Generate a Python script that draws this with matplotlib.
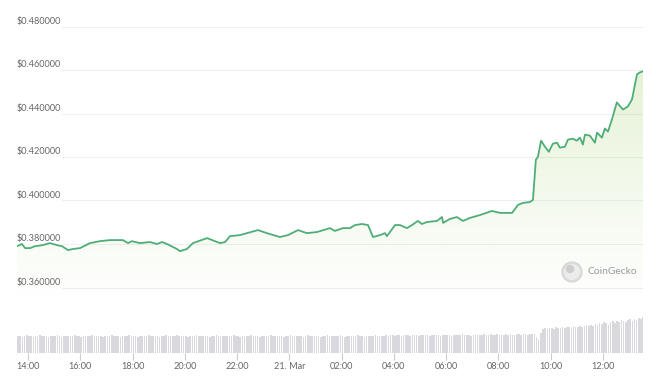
import matplotlib
matplotlib.use("Agg")
import matplotlib.pyplot as plt
import numpy as np
from matplotlib.patches import Circle

plt.rcParams['font.family'] = ['Lato', 'DejaVu Sans']

# price, hours after 14:00 (20 Mar)
hours = [-0.42, -0.23, -0.11, 0.08, 0.27, 0.57, 0.84, 1.11, 1.30, 1.53, 1.72, 1.99,
         2.37, 2.75, 3.14, 3.63, 3.83, 3.98, 4.28, 4.67, 4.93, 5.13, 5.32, 5.70,
         5.81, 6.08, 6.31, 6.85, 7.35, 7.54, 7.73, 8.11, 8.38, 8.80, 9.14, 9.64,
         9.95, 10.33, 10.67, 11.06, 11.55, 11.74, 12.05, 12.32, 12.51, 12.78, 13.01, 13.20,
         13.47, 13.66, 13.73, 13.85, 14.04, 14.23, 14.50, 14.69, 14.92, 15.07, 15.26, 15.65,
         15.84, 15.88, 16.14, 16.41, 16.64, 16.91, 17.29, 17.75, 18.06, 18.32, 18.52, 18.75,
         18.94, 19.20, 19.32, 19.43, 19.51, 19.63, 19.78, 19.93, 20.08, 20.24, 20.35, 20.54,
         20.66, 20.85, 21.00, 21.12, 21.23, 21.31, 21.50, 21.69, 21.77, 21.96, 22.07, 22.19,
         22.34, 22.53, 22.76, 22.95, 23.11, 23.30, 23.41, 23.53]
prices = [0.3790, 0.3800, 0.3781, 0.3781, 0.3790, 0.3795, 0.3804, 0.3795, 0.3790, 0.3772, 0.3777, 0.3781,
          0.3804, 0.3813, 0.3818, 0.3818, 0.3804, 0.3813, 0.3804, 0.3809, 0.3800, 0.3809, 0.3800, 0.3777,
          0.3767, 0.3777, 0.3804, 0.3827, 0.3804, 0.3809, 0.3836, 0.3841, 0.3850, 0.3864, 0.3850, 0.3832,
          0.3841, 0.3864, 0.3850, 0.3855, 0.3873, 0.3860, 0.3873, 0.3873, 0.3887, 0.3892, 0.3887, 0.3832,
          0.3841, 0.3850, 0.3836, 0.3855, 0.3887, 0.3887, 0.3873, 0.3887, 0.3906, 0.3892, 0.3901, 0.3906,
          0.3924, 0.3897, 0.3915, 0.3924, 0.3906, 0.3920, 0.3933, 0.3952, 0.3943, 0.3943, 0.3943, 0.3980,
          0.3989, 0.3993, 0.4003, 0.4187, 0.4201, 0.4275, 0.4247, 0.4224, 0.4261, 0.4266, 0.4243, 0.4247,
          0.4280, 0.4284, 0.4275, 0.4289, 0.4257, 0.4303, 0.4298, 0.4266, 0.4312, 0.4289, 0.4331, 0.4317,
          0.4372, 0.4451, 0.4418, 0.4432, 0.4465, 0.4580, 0.4589, 0.4594]

# volume, 5-minute bars starting 13:35
volumes = [
    17, 17, 16, 17, 18, 17, 17, 16, 17, 17, 18, 17, 17, 17, 16, 17, 17, 17, 18, 17, 16, 17, 17, 17,
    17, 17, 18, 17, 17, 16, 17, 17, 17, 17, 18, 17, 17, 17, 17, 16, 17, 17, 17, 18, 17, 17, 17, 16,
    17, 17, 17, 18, 17, 17, 17, 16, 17, 17, 17, 17, 18, 17, 17, 17, 17, 16, 17, 17, 18, 17, 17, 17,
    17, 18, 17, 17, 17, 17, 16, 17, 17, 17, 18, 17, 17, 17, 17, 17, 16, 17, 17, 18, 17, 17, 17, 17,
    17, 17, 17, 18, 17, 17, 16, 17, 17, 17, 17, 18, 17, 17, 17, 16, 17, 17, 17, 17, 18, 17, 17, 17,
    17, 17, 16, 17, 17, 18, 17, 17, 17, 17, 17, 16, 17, 18, 17, 17, 17, 17, 17, 16, 17, 17, 18, 17,
    17, 17, 17, 17, 18, 17, 16, 17, 17, 17, 17, 17, 18, 17, 17, 16, 17, 17, 17, 17, 18, 17, 17, 17,
    17, 18, 17, 18, 18, 17, 18, 18, 17, 18, 18, 18, 17, 18, 18, 18, 17, 18, 18, 18, 18, 17, 18, 18,
    18, 18, 17, 18, 18, 18, 18, 17, 18, 18, 18, 18, 19, 18, 18, 18, 17, 18, 18, 18, 18, 18, 19, 18,
    18, 19, 18, 18, 19, 18, 18, 18, 19, 18, 19, 18, 18, 19, 19, 18, 19, 19, 18, 19, 19, 19, 16, 14,
    20, 24, 25, 24, 25, 25, 24, 26, 25, 25, 26, 25, 26, 26, 25, 27, 26, 26, 27, 26, 27, 28, 27, 28,
    27, 29, 28, 30, 29, 31, 30, 28, 31, 32, 30, 32, 31, 33, 32, 31, 33, 34, 32, 34, 33, 35, 34, 36,
]
vol_start = -0.42
vol_step = 5 / 60

grid_levels = [0.36, 0.38, 0.40, 0.42, 0.44, 0.46, 0.48]
tick_hours = [0, 2, 4, 6, 8, 10, 12, 14, 16, 18, 20, 22]
tick_labels = ['14:00', '16:00', '18:00', '20:00', '22:00', '21. Mar',
               '02:00', '04:00', '06:00', '08:00', '10:00', '12:00']

W, H = 656, 378
fig = plt.figure(figsize=(W / 100, H / 100), dpi=100)
fig.patch.set_facecolor('white')

x0, x1 = 17, 643
xlim = (-0.42, 23.53)

# price panel: pixel rows 10..300
ax = fig.add_axes([x0 / W, (H - 300) / H, (x1 - x0) / W, 290 / H])
ylo = 0.38 - 56 * 0.02 / 43.5
yhi = 0.38 + 234 * 0.02 / 43.5
ax.set_xlim(*xlim)
ax.set_ylim(ylo, yhi)
ax.axis('off')

for lv in grid_levels:
    ax.axhline(lv, xmin=(62 - x0) / (x1 - x0), xmax=1, color='#efefef', lw=0.8, zorder=0)
    ax.annotate(f'${lv:.6f}', (xlim[0], lv), xytext=(0, 0.5), textcoords='offset points',
                ha='left', va='bottom', fontsize=6.6, color='#666666')

line_color = '#4fae78'
ax.plot(hours, prices, color=line_color, lw=1.3, zorder=3, solid_joinstyle='round')

poly = ax.fill_between(hours, prices, ylo, color='none', lw=0)
grad = np.linspace(1, 0, 256).reshape(-1, 1)
rgba = np.zeros((256, 1, 4))
rgba[..., 0] = 0x8d / 255
rgba[..., 1] = 0xc6 / 255
rgba[..., 2] = 0x47 / 255
rgba[..., 3] = 0.28 * grad
img = ax.imshow(rgba, extent=[xlim[0], xlim[1], ylo, yhi], aspect='auto', origin='upper', zorder=1)
img.set_clip_path(poly.get_paths()[0], transform=ax.transData)

# CoinGecko badge
bx = fig.add_axes([0, 0, 1, 1], facecolor='none')
bx.set_xlim(0, W)
bx.set_ylim(H, 0)
bx.axis('off')
bx.add_patch(Circle((572, 272), 10, color='#d9d9d9', zorder=2))
bx.add_patch(Circle((572, 272), 7.5, color='#ececec', zorder=3))
bx.add_patch(Circle((570, 269), 3.5, color='#cfcfcf', zorder=4))
bx.text(587, 272, 'CoinGecko', fontsize=7.4, color='#9b9b9b', va='center', ha='left')

# volume panel: pixel rows 300..353
vx = fig.add_axes([x0 / W, (H - 353) / H, (x1 - x0) / W, 53 / H])
vt = [vol_start + vol_step * (i + 0.5) for i in range(len(volumes))]
vx.bar(vt, volumes, width=vol_step * 0.72, color='#d8d8de', lw=0)
vx.set_xlim(*xlim)
vx.set_ylim(0, 53)
for s in vx.spines.values():
    s.set_visible(False)
vx.set_yticks([])
vx.set_xticks(tick_hours)
vx.set_xticklabels(tick_labels, fontsize=6.6, color='#666666')
vx.tick_params(axis='x', length=5, width=0.8, color='#cccccc', pad=1.5)
vx.patch.set_alpha(0)

fig.savefig('out.png', dpi=100, facecolor='white')
